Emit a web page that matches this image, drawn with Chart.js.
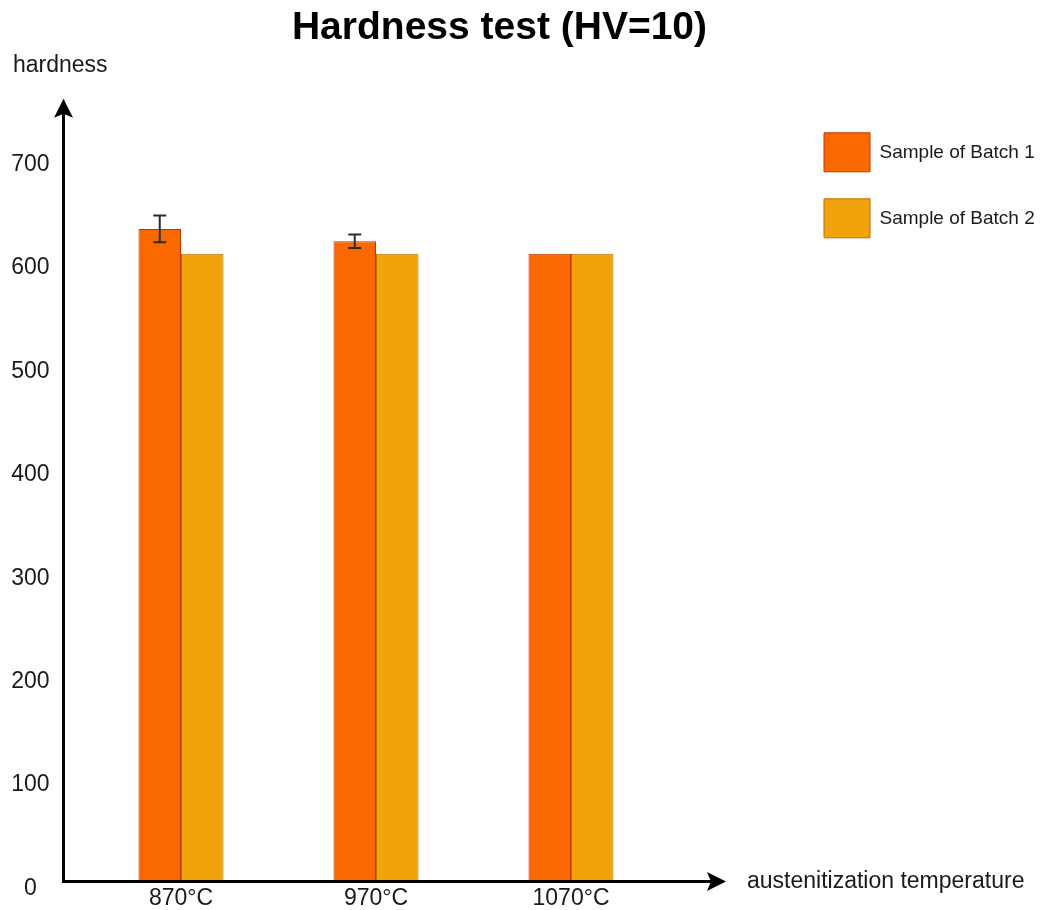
<!DOCTYPE html>
<html>
<head>
<meta charset="utf-8">
<title>Hardness test (HV=10)</title>
<script src="https://cdn.jsdelivr.net/npm/chart.js@4.4.0/dist/chart.umd.min.js"></script>
<style>
  html, body { margin: 0; padding: 0; background: #fff; }
  #wrap { width: 1040px; height: 910px; }
</style>
</head>
<body>
<div id="wrap"><canvas id="chart"></canvas></div>
<script>
// ─── DATA ───────────────────────────────────────────
const categories = ['870°C', '970°C', '1070°C'];
const batch1 = [631, 619, 607];
const batch2 = [607, 607, 607];
const batch1Err = [13, 6.5, 0];
const yTicks = [0, 100, 200, 300, 400, 500, 600, 700];

const FONT = "'Liberation Sans', Arial, sans-serif";
const TEXT = '#1a1a1a';

// classic draw.io style arrow head
function drawArrow(ctx, tx, ty, dx, dy) {
    const len = 19, half = 9.5, notch = 4;
    const px = -dy, py = dx;
    ctx.beginPath();
    ctx.moveTo(tx, ty);
    ctx.lineTo(tx - dx * len + px * half, ty - dy * len + py * half);
    ctx.lineTo(tx - dx * (len - notch), ty - dy * (len - notch));
    ctx.lineTo(tx - dx * len - px * half, ty - dy * len - py * half);
    ctx.closePath();
    ctx.fill();
}

// axes with arrows + axis titles
const axisArrows = {
    id: 'axisArrows',
    afterDatasetsDraw(chart) {
        const { ctx, chartArea, scales } = chart;
        const y0 = scales.y.getPixelForValue(0);
        const ax = chartArea.left - 20;
        const yTip = chartArea.top - 7;
        const xTip = chartArea.right + 57.5;

        ctx.save();
        ctx.strokeStyle = '#000';
        ctx.fillStyle = '#000';
        ctx.lineWidth = 3;
        ctx.beginPath();
        ctx.moveTo(ax, y0 + 1.5);
        ctx.lineTo(ax, yTip + 12);
        ctx.moveTo(ax - 1.5, y0);
        ctx.lineTo(xTip - 12, y0);
        ctx.stroke();
        drawArrow(ctx, ax, yTip, 0, -1);
        drawArrow(ctx, xTip, y0, 1, 0);

        ctx.fillStyle = TEXT;
        ctx.font = `23px ${FONT}`;
        ctx.textBaseline = 'middle';
        ctx.textAlign = 'left';
        ctx.fillText('hardness', 13, 66);
        ctx.fillText('austenitization temperature', xTip + 21, y0);
        ctx.restore();
    }
};

// error bars on batch 1
const errorBars = {
    id: 'errorBars',
    afterDatasetsDraw(chart) {
        const { ctx, scales } = chart;
        const meta = chart.getDatasetMeta(0);
        ctx.save();
        ctx.strokeStyle = '#2b2b2b';
        ctx.lineWidth = 2;
        meta.data.forEach((bar, i) => {
            const err = batch1Err[i];
            if (!err) return;
            const top = scales.y.getPixelForValue(batch1[i] + err);
            const bot = scales.y.getPixelForValue(batch1[i] - err);
            ctx.beginPath();
            ctx.moveTo(bar.x, top);
            ctx.lineTo(bar.x, bot);
            ctx.moveTo(bar.x - 6.5, top);
            ctx.lineTo(bar.x + 6.5, top);
            ctx.moveTo(bar.x - 6.5, bot);
            ctx.lineTo(bar.x + 6.5, bot);
            ctx.stroke();
        });
        ctx.restore();
    }
};

new Chart(document.getElementById('chart'), {
    type: 'bar',
    data: {
        labels: categories,
        datasets: [
            {
                label: 'Sample of Batch 1',
                data: batch1,
                backgroundColor: '#FA6800',
                borderColor: '#C73500',
                borderWidth: 1
            },
            {
                label: 'Sample of Batch 2',
                data: batch2,
                backgroundColor: '#F0A30A',
                borderColor: '#BD7000',
                borderWidth: 1
            }
        ]
    },
    options: {
        responsive: true,
        maintainAspectRatio: false,
        animation: false,
        events: [],
        // negative left padding keeps the title centred where the reference has it
        layout: { autoPadding: false, padding: { left: -41, right: 0, top: 0, bottom: 0 } },
        datasets: {
            bar: { categoryPercentage: 0.436, barPercentage: 1 }
        },
        plugins: {
            tooltip: { enabled: false },
            title: {
                display: true,
                text: 'Hardness test (HV=10)',
                color: '#000',
                font: { family: FONT, size: 39, weight: 'bold', lineHeight: 1.2 },
                padding: { top: 5, bottom: 54 }
            },
            legend: {
                position: 'right',
                align: 'start',
                fullSize: false,
                maxWidth: 243,
                labels: {
                    boxWidth: 46,
                    boxHeight: 39,
                    padding: 27,
                    color: TEXT,
                    font: { family: FONT, size: 19 }
                }
            }
        },
        scales: {
            x: {
                grid: { display: false, drawTicks: false },
                border: { display: false },
                ticks: { padding: 3, color: TEXT, font: { family: FONT, size: 23 } },
                afterFit(scale) { scale.height = 28.5; }
            },
            y: {
                min: 0,
                max: 750,
                // invisible tick length pushes the centred labels away from the axis
                grid: { display: false, drawTicks: true, tickLength: 34 },
                border: { display: false },
                ticks: {
                    padding: 0,
                    crossAlign: 'center',
                    labelOffset: 7,
                    color: TEXT,
                    font: { family: FONT, size: 23 }
                },
                afterBuildTicks(scale) { scale.ticks = yTicks.map(v => ({ value: v })); },
                afterFit(scale) { scale.width = 124.5; }
            },
            // spacer between plot and legend
            gap: {
                type: 'linear',
                position: 'right',
                grid: { display: false, drawTicks: false },
                border: { display: false },
                ticks: { display: false },
                afterFit(scale) { scale.width = 128.5; }
            }
        }
    },
    plugins: [errorBars, axisArrows]
});
</script>
</body>
</html>
